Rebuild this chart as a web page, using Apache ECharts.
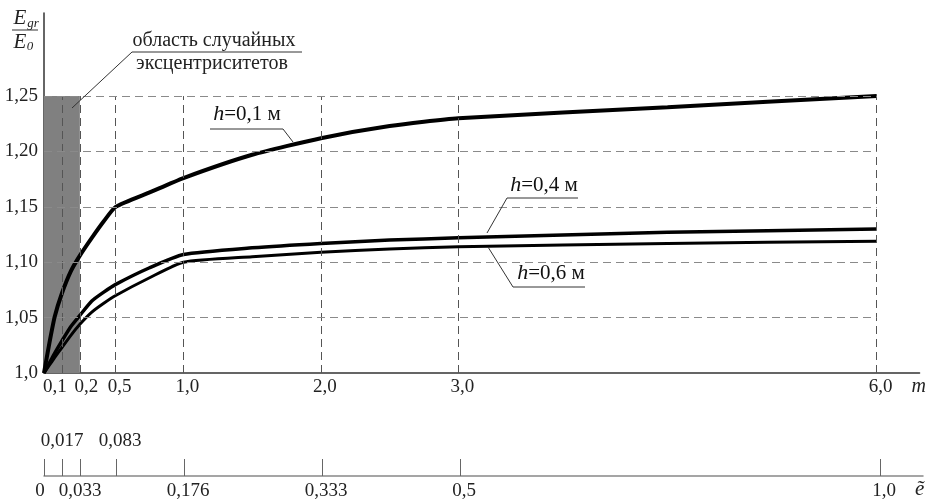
<!DOCTYPE html>
<html>
<head>
<meta charset="utf-8">
<script src="https://cdn.jsdelivr.net/npm/echarts@6/dist/echarts.min.js"></script>
<style>
html, body { margin: 0; padding: 0; background: #fff; }
#chart { width: 929px; height: 501px; }
</style>
</head>
<body>
<div id="chart"></div>
<script>
// m axis ticks and matching ẽ values
var mTicks = [0, 0.1, 0.2, 0.5, 1.0, 2.0, 3.0, 6.0];
var mLabels = ['0', '0,1', '0,2', '0,5', '1,0', '2,0', '3,0', '6,0'];
var eLabels = ['0', '0,017', '0,033', '0,083', '0,176', '0,333', '0,5', '1,0'];
// the m axis is stretched near zero: axis units of each tick
var mTickPos = [0, 18, 36, 72, 140, 278, 416, 836];

var yTicks = [1.0, 1.05, 1.10, 1.15, 1.20, 1.25];
var yLabels = ['1,0', '1,05', '1,10', '1,15', '1,20', '1,25'];

// E_gr / E_0
var mPoints = [0, 0.03, 0.06, 0.1, 0.15, 0.2, 0.3, 0.4, 0.5, 0.75, 1.0, 1.5, 2.0, 2.5, 3.0, 4.5, 6.0];
var h01 = [1.0, 1.027, 1.051, 1.072, 1.092, 1.106, 1.122, 1.137, 1.150, 1.163, 1.176, 1.197, 1.212, 1.223, 1.230, 1.240, 1.250];
var h04 = [1.0, 1.009, 1.018, 1.029, 1.042, 1.052, 1.065, 1.073, 1.080, 1.095, 1.107, 1.113, 1.117, 1.120, 1.122, 1.127, 1.130];
var h06 = [1.0, 1.007, 1.014, 1.023, 1.034, 1.044, 1.055, 1.063, 1.070, 1.086, 1.100, 1.105, 1.109, 1.112, 1.114, 1.117, 1.119];

var FONT = '"Liberation Serif", "DejaVu Serif", serif';
var AXIS_MAX = 879;
var FS = 19;

// piecewise linear m -> axis units
function toAxis(m) {
	for (var i = 1; i < mTicks.length; i++) {
		if (m <= mTicks[i]) {
			var t = (m - mTicks[i - 1]) / (mTicks[i] - mTicks[i - 1]);
			return mTickPos[i - 1] + t * (mTickPos[i] - mTickPos[i - 1]);
		}
	}
	return mTickPos[mTickPos.length - 1];
}
function tickIndex(v) {
	var best = 0;
	for (var i = 0; i < mTickPos.length; i++) {
		if (Math.abs(mTickPos[i] - v) < Math.abs(mTickPos[best] - v)) best = i;
	}
	return best;
}
function curve(vals) {
	return mPoints.map(function (m, i) { return [toAxis(m), vals[i]]; });
}

var xEnd = toAxis(mTicks[mTicks.length - 1]);
var yTop = yTicks[yTicks.length - 1];

var gridLines = [];
mTicks.slice(1).forEach(function (m) {
	gridLines.push([
		{ coord: [toAxis(m), yTicks[0]], lineStyle: { color: '#555', width: 1, type: [8, 5] } },
		{ coord: [toAxis(m), yTop] }
	]);
});
yTicks.slice(1).forEach(function (y) {
	gridLines.push([
		{ coord: [0, y], lineStyle: { color: '#8a8a8a', width: 1, type: [8, 5] } },
		{ coord: [xEnd, y] }
	]);
});

function rich(extra) {
	var r = { fontFamily: FONT, fontSize: FS, color: '#222' };
	for (var k in extra) r[k] = extra[k];
	return r;
}
var richSet = {
	n: rich({}),
	r: rich({ padding: [0, 0, 0, 8] }),
	rr: rich({ padding: [0, 0, 0, 13] }),
	l: rich({ padding: [0, 14, 0, 0] }),
	ll: rich({ padding: [0, 8, 0, 0] })
};

function lbl(text, x, y, opts) {
	var s = { text: text, fill: '#222', font: '20px ' + FONT, textAlign: 'center', textVerticalAlign: 'middle' };
	for (var k in opts) s[k] = opts[k];
	return { type: 'text', x: x, y: y, style: s, z: 10 };
}
function seg(x1, y1, x2, y2) {
	return { type: 'line', shape: { x1: x1, y1: y1, x2: x2, y2: y2 }, style: { stroke: '#333', lineWidth: 1 }, z: 10 };
}
function hLabel(value, x, y) {
	return {
		type: 'text', x: x, y: y, z: 10,
		style: {
			text: '{i|h}{n|=' + value + ' м}',
			textAlign: 'center', textVerticalAlign: 'middle',
			rich: {
				i: { fontFamily: FONT, fontSize: 22, fontStyle: 'italic', fill: '#111' },
				n: { fontFamily: FONT, fontSize: 21, fill: '#111' }
			}
		}
	};
}

var chart = echarts.init(document.getElementById('chart'));
chart.setOption({
	backgroundColor: '#fff',
	animation: false,
	grid: [
		{ left: 44, right: 6, top: 13, bottom: 128 },
		{ left: 44, right: 6, top: 461, height: 18 }
	],
	xAxis: [{
		type: 'value', gridIndex: 0, min: 0, max: AXIS_MAX,
		name: 'm', nameLocation: 'end', nameGap: -8,
		nameTextStyle: { fontFamily: FONT, fontSize: 20, fontStyle: 'italic', color: '#222', verticalAlign: 'top', padding: [4, 0, 0, 0] },
		axisLine: { lineStyle: { color: '#333', width: 1.5 } },
		axisTick: { show: false },
		splitLine: { show: false },
		axisLabel: {
			customValues: mTicks.slice(1).map(toAxis),
			margin: 5, fontFamily: FONT, fontSize: FS, color: '#222',
			formatter: function (v) {
				var i = tickIndex(v);
				if (i === 1) return '{l|' + mLabels[i] + '}';
				if (i === 2) return '{rr|' + mLabels[i] + '}';
				return '{r|' + mLabels[i] + '}';
			},
			rich: richSet
		}
	}, {
		type: 'value', gridIndex: 1, min: 0, max: AXIS_MAX, position: 'bottom',
		name: 'ẽ', nameLocation: 'end', nameGap: -8,
		nameTextStyle: { fontFamily: FONT, fontSize: 21, fontStyle: 'italic', color: '#222', verticalAlign: 'top', padding: [3, 0, 0, 0] },
		axisLine: { lineStyle: { color: '#888', width: 1.5 } },
		axisTick: { inside: true, length: 17, customValues: mTicks.map(toAxis), lineStyle: { color: '#666', width: 1 } },
		splitLine: { show: false },
		axisLabel: {
			customValues: mTicks.filter(function (m, i) { return i !== 1 && i !== 3; }).map(toAxis),
			margin: 6, fontFamily: FONT, fontSize: FS, color: '#222',
			formatter: function (v) {
				var i = tickIndex(v);
				if (i === 0) return '{ll|' + eLabels[i] + '}';
				if (i === 2) return '{n|' + eLabels[i] + '}';
				return '{r|' + eLabels[i] + '}';
			},
			rich: richSet
		}
	}, {
		type: 'value', gridIndex: 1, min: 0, max: AXIS_MAX, position: 'top',
		axisLine: { show: false },
		axisTick: { show: false },
		splitLine: { show: false },
		axisLabel: {
			customValues: [toAxis(mTicks[1]), toAxis(mTicks[3])],
			margin: 10, fontFamily: FONT, fontSize: FS, color: '#222',
			formatter: function (v) {
				var i = tickIndex(v);
				return i === 3 ? '{r|' + eLabels[i] + '}' : '{n|' + eLabels[i] + '}';
			},
			rich: richSet
		}
	}],
	yAxis: [{
		type: 'value', gridIndex: 0, min: 1.0, max: 1.325, interval: 0.05,
		axisLine: { show: true, lineStyle: { color: '#333', width: 1.5 } },
		axisTick: { show: false },
		splitLine: { show: false },
		axisLabel: {
			margin: 6, fontFamily: FONT, fontSize: FS, color: '#222',
			formatter: function (v) {
				for (var i = 0; i < yTicks.length; i++) {
					if (Math.abs(yTicks[i] - v) < 1e-6) return yLabels[i];
				}
				return '';
			}
		}
	}, {
		type: 'value', gridIndex: 1, min: 0, max: 1, show: false
	}],
	series: [{
		name: 'area', type: 'line', xAxisIndex: 0, yAxisIndex: 0, data: [], z: 1, silent: true,
		markArea: {
			silent: true,
			itemStyle: { color: '#808080' },
			data: [[{ coord: [0, yTicks[0]] }, { coord: [toAxis(0.2), yTop] }]]
		}
	}, {
		name: 'grid', type: 'line', xAxisIndex: 0, yAxisIndex: 0, data: [], z: 2, silent: true,
		markLine: { silent: true, symbol: 'none', label: { show: false }, data: gridLines }
	}, {
		name: 'h=0,1 м', type: 'line', data: curve(h01), showSymbol: false, smooth: 0.2,
		lineStyle: { color: '#000', width: 4 }, z: 3
	}, {
		name: 'h=0,4 м', type: 'line', data: curve(h04), showSymbol: false, smooth: 0.2,
		lineStyle: { color: '#000', width: 3.5 }, z: 3
	}, {
		name: 'h=0,6 м', type: 'line', data: curve(h06), showSymbol: false, smooth: 0.2,
		lineStyle: { color: '#000', width: 3 }, z: 3
	}],
	graphic: [
		// E_gr / E_0
		lbl('E', 20, 18, { font: 'italic 21px ' + FONT }),
		lbl('gr', 33, 24, { font: 'italic 13px ' + FONT }),
		seg(12, 30, 38, 30),
		lbl('E', 20, 42, { font: 'italic 21px ' + FONT }),
		lbl('0', 30, 47, { font: 'italic 13px ' + FONT }),
		// shaded region note
		lbl('область случайных', 214, 41),
		seg(132, 52, 302, 52),
		lbl('эксцентриситетов', 212, 64),
		seg(132, 52, 72, 108),
		// curve labels
		hLabel('0,1', 247, 114),
		seg(210, 129, 283, 129),
		seg(283, 129, 293, 142),
		hLabel('0,4', 544, 185),
		seg(507, 198, 578, 198),
		seg(507, 198, 487, 233),
		hLabel('0,6', 551, 273),
		seg(513, 287, 585, 287),
		seg(513, 287, 488, 247)
	]
});
</script>
</body>
</html>
